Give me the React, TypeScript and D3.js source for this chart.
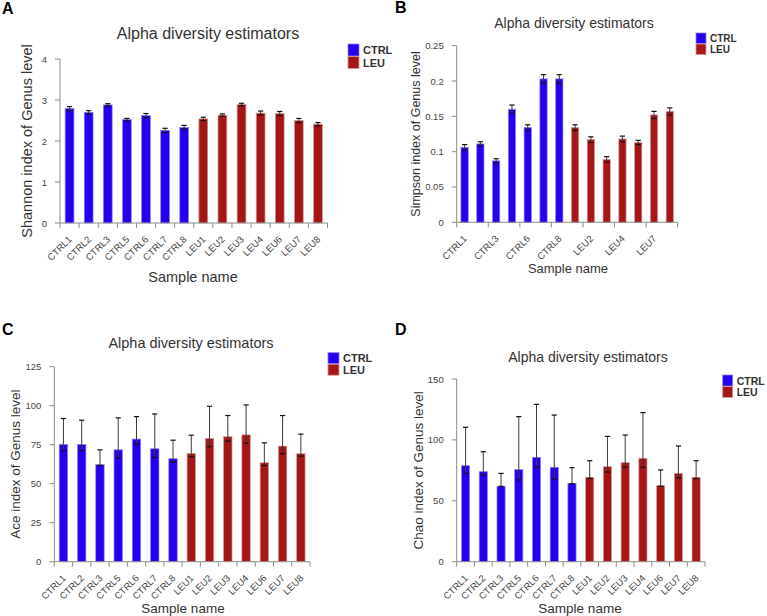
import React, { useEffect, useRef } from 'react';
import * as d3 from 'd3';

// sample order along the x axis
const samples = ['CTRL1', 'CTRL2', 'CTRL3', 'CTRL5', 'CTRL6', 'CTRL7', 'CTRL8', 'LEU1', 'LEU2', 'LEU3', 'LEU4', 'LEU6', 'LEU7', 'LEU8'];
const groupNames = ['CTRL', 'LEU'];
const groupColors = ['#2300ee', '#a51616'];
const groupEdges = ['#8c80f4', '#d29a9a'];

// A - Shannon
const shannonValues = [2.79, 2.7, 2.88, 2.52, 2.62, 2.26, 2.33, 2.54, 2.63, 2.89, 2.68, 2.67, 2.5, 2.41];
const shannonErrors = [0.05, 0.04, 0.03, 0.03, 0.05, 0.05, 0.05, 0.04, 0.03, 0.03, 0.05, 0.05, 0.05, 0.04];
const shannonTicks = [0, 1, 2, 3, 4];

// B - Simpson
const simpsonValues = [0.106, 0.111, 0.087, 0.16, 0.134, 0.203, 0.203, 0.134, 0.117, 0.089, 0.118, 0.113, 0.152, 0.157];
const simpsonErrors = [0.004, 0.003, 0.003, 0.006, 0.004, 0.006, 0.006, 0.004, 0.004, 0.004, 0.004, 0.003, 0.005, 0.005];
const simpsonTicks = [0, 0.05, 0.1, 0.15, 0.2, 0.25];

// C - Ace
const aceValues = [75.2, 75.2, 62.2, 71.7, 78.6, 72.4, 66, 69.4, 79, 80.1, 81.3, 63.4, 74.1, 69.2];
const aceUpper = [91.8, 90.7, 71.7, 92.2, 93, 94.7, 77.9, 81.1, 99.6, 93.7, 100.5, 76.2, 93.7, 81.8];
const aceLower = [71.3, 71.3, 61.7, 66.6, 75.2, 66.9, 63.9, 67.3, 73.7, 77.3, 76, 61.7, 69.2, 67.7];
const aceTicks = [0, 25, 50, 75, 100, 125];

// D - Chao
const chaoValues = [78.8, 73.9, 61.9, 75.6, 85.7, 77.5, 64.3, 69.3, 78, 81.3, 84.9, 62.4, 72.5, 69.3];
const chaoUpper = [110.3, 90.3, 72.5, 119.1, 129.2, 120.4, 77.2, 82.9, 102.9, 104, 122.4, 75.3, 95, 82.9];
const chaoLower = [72.5, 71.2, 61.9, 67.1, 77.5, 67.9, 64, 68.4, 73.6, 77.7, 77.5, 61.9, 69, 68.2];
const chaoTicks = [0, 50, 100, 150];

const FONT = 'Arial, "Liberation Sans", sans-serif';

interface PanelSpec {
  letter: string;
  letterX: number;
  letterY: number;
  values: number[];
  upper: number[];
  lower: number[];
  ticks: number[];
  yLabel: string;
  left: number;
  right: number;
  top: number;
  bottom: number;
  titleX: number;
  titleY: number;
  titleSize: number;
  yLabelX: number;
  yLabelSize: number;
  xLabelX: number;
  xLabelY: number;
  xLabelSize: number;
  labelEvery: number;
  legendX: number;
  legendY: number;
  legendW: number;
  legendH: number;
  legendSize: number;
}

const panels: PanelSpec[] = [
  {
    letter: 'A', letterX: 2, letterY: 14,
    values: shannonValues,
    upper: shannonValues.map((v, i) => v + shannonErrors[i]),
    lower: shannonValues.map((v, i) => v - shannonErrors[i]),
    ticks: shannonTicks, yLabel: 'Shannon index of Genus level',
    left: 60, right: 327.5, top: 59, bottom: 223,
    titleX: 208, titleY: 33, titleSize: 16,
    yLabelX: 27, yLabelSize: 14.5,
    xLabelX: 193, xLabelY: 277, xLabelSize: 14.5,
    labelEvery: 1,
    legendX: 348, legendY: 44, legendW: 11, legendH: 12, legendSize: 11
  },
  {
    letter: 'B', letterX: 395, letterY: 13,
    values: simpsonValues,
    upper: simpsonValues.map((v, i) => v + simpsonErrors[i]),
    lower: simpsonValues.map((v, i) => v - simpsonErrors[i]),
    ticks: simpsonTicks, yLabel: 'Simpson index of Genus level',
    left: 456.7, right: 677.7, top: 45.7, bottom: 222.3,
    titleX: 574, titleY: 23, titleSize: 14,
    yLabelX: 416, yLabelSize: 12.5,
    xLabelX: 568, xLabelY: 268, xLabelSize: 13,
    labelEvery: 2,
    legendX: 696, legendY: 33, legendW: 10, legendH: 10.5, legendSize: 10
  },
  {
    letter: 'C', letterX: 2, letterY: 335,
    values: aceValues, upper: aceUpper, lower: aceLower,
    ticks: aceTicks, yLabel: 'Ace index of Genus level',
    left: 54.3, right: 310, top: 366.7, bottom: 561.7,
    titleX: 191, titleY: 343, titleSize: 14.5,
    yLabelX: 15, yLabelSize: 13.5,
    xLabelX: 183, xLabelY: 608, xLabelSize: 13.5,
    labelEvery: 1,
    legendX: 328, legendY: 352.7, legendW: 11, legendH: 11, legendSize: 11
  },
  {
    letter: 'D', letterX: 395, letterY: 335,
    values: chaoValues, upper: chaoUpper, lower: chaoLower,
    ticks: chaoTicks, yLabel: 'Chao index of Genus level',
    left: 456.7, right: 705, top: 379, bottom: 561.7,
    titleX: 588, titleY: 357, titleSize: 14,
    yLabelX: 418, yLabelSize: 13.5,
    xLabelX: 580, xLabelY: 608, xLabelSize: 13.5,
    labelEvery: 1,
    legendX: 722.7, legendY: 375, legendW: 10, legendH: 11, legendSize: 10.5
  }
];

const groupIndex = (s: string) => (s.startsWith('CTRL') ? 0 : 1);

function drawPanel(svg: d3.Selection<SVGSVGElement, unknown, null, undefined>, p: PanelSpec) {
  const g = svg.append('g');

  const x = d3.scaleBand<string>().domain(samples).range([p.left, p.right]).padding(0);
  const y = d3.scaleLinear()
    .domain([p.ticks[0], p.ticks[p.ticks.length - 1]])
    .range([p.bottom, p.top]);
  const step = x.step();
  const barW = step * 0.46;

  // panel letter
  g.append('text')
    .attr('x', p.letterX).attr('y', p.letterY)
    .attr('font-family', FONT).attr('font-weight', 'bold').attr('font-size', 16)
    .attr('fill', '#000')
    .text(p.letter);

  // title
  g.append('text')
    .attr('x', p.titleX).attr('y', p.titleY)
    .attr('text-anchor', 'middle').attr('dominant-baseline', 'central')
    .attr('font-family', FONT).attr('font-size', p.titleSize)
    .attr('fill', '#333')
    .text('Alpha diversity estimators');

  // bars
  g.selectAll('.bar')
    .data(p.values)
    .enter()
    .append('rect')
    .attr('x', (d, i) => (x(samples[i]) || 0) + (step - barW) / 2)
    .attr('y', d => y(d))
    .attr('width', barW)
    .attr('height', d => y(0) - y(d))
    .attr('fill', (d, i) => groupColors[groupIndex(samples[i])])
    .attr('stroke', (d, i) => groupEdges[groupIndex(samples[i])])
    .attr('stroke-width', 0.7);

  // error bars
  const cap = 2.6;
  samples.forEach((s, i) => {
    const cx = (x(s) || 0) + step / 2;
    const yu = y(p.upper[i]);
    const yl = y(p.lower[i]);
    g.append('line')
      .attr('x1', cx).attr('x2', cx).attr('y1', yu).attr('y2', yl)
      .attr('stroke', '#3a3a3a').attr('stroke-width', 1);
    [yu, yl].forEach(yy => {
      g.append('line')
        .attr('x1', cx - cap).attr('x2', cx + cap).attr('y1', yy).attr('y2', yy)
        .attr('stroke', '#111').attr('stroke-width', 1.2);
    });
  });

  // y axis
  const axisColor = '#8c8c8c';
  g.append('line')
    .attr('x1', p.left).attr('x2', p.left).attr('y1', p.top).attr('y2', p.bottom)
    .attr('stroke', axisColor).attr('stroke-width', 1);
  p.ticks.forEach(t => {
    g.append('line')
      .attr('x1', p.left - 5).attr('x2', p.left).attr('y1', y(t)).attr('y2', y(t))
      .attr('stroke', axisColor).attr('stroke-width', 1);
    g.append('text')
      .attr('x', p.left - 13).attr('y', y(t))
      .attr('text-anchor', 'end').attr('dominant-baseline', 'central')
      .attr('font-family', FONT).attr('font-size', 9.5).attr('fill', '#444')
      .text(d3.format('~g')(t));
  });

  // x axis
  g.append('line')
    .attr('x1', p.left).attr('x2', p.right).attr('y1', p.bottom).attr('y2', p.bottom)
    .attr('stroke', axisColor).attr('stroke-width', 1);
  const edges = samples.map(s => x(s) || 0).concat([p.right]);
  edges.forEach((ex, i) => {
    if (p.labelEvery > 1 && i % p.labelEvery !== 0 && i !== edges.length - 1) return;
    g.append('line')
      .attr('x1', ex).attr('x2', ex).attr('y1', p.bottom).attr('y2', p.bottom + 5)
      .attr('stroke', axisColor).attr('stroke-width', 1);
  });
  samples.forEach((s, i) => {
    if (i % p.labelEvery !== 0) return;
    const cx = (x(s) || 0) + step / 2 + 3;
    const ty = p.bottom + 17;
    g.append('text')
      .attr('transform', `translate(${cx},${ty}) rotate(-45)`)
      .attr('text-anchor', 'end')
      .attr('font-family', FONT).attr('font-size', 9.5).attr('fill', '#444')
      .text(s);
  });

  // axis titles
  g.append('text')
    .attr('transform', `translate(${p.yLabelX},${(p.top + p.bottom) / 2}) rotate(-90)`)
    .attr('text-anchor', 'middle').attr('dominant-baseline', 'central')
    .attr('font-family', FONT).attr('font-size', p.yLabelSize).attr('fill', '#333')
    .text(p.yLabel);
  g.append('text')
    .attr('x', p.xLabelX).attr('y', p.xLabelY)
    .attr('text-anchor', 'middle').attr('dominant-baseline', 'central')
    .attr('font-family', FONT).attr('font-size', p.xLabelSize).attr('fill', '#333')
    .text('Sample name');

  // legend
  groupNames.forEach((name, i) => {
    const ly = p.legendY + i * (p.legendH + 0.5);
    g.append('rect')
      .attr('x', p.legendX).attr('y', ly)
      .attr('width', p.legendW).attr('height', p.legendH)
      .attr('fill', groupColors[i]).attr('stroke', groupEdges[i]).attr('stroke-width', 0.8);
    g.append('text')
      .attr('x', p.legendX + p.legendW + 4).attr('y', ly + p.legendH / 2)
      .attr('dominant-baseline', 'central')
      .attr('font-family', FONT).attr('font-weight', 'bold')
      .attr('font-size', p.legendSize).attr('fill', '#333')
      .text(name);
  });
}

const App: React.FC = () => {
  const svgRef = useRef<SVGSVGElement>(null);

  useEffect(() => {
    if (!svgRef.current) return;
    const svg = d3.select(svgRef.current);
    svg.selectAll('*').remove();
    panels.forEach(p => drawPanel(svg, p));
  }, []);

  return (
    <div style={{ position: 'absolute', left: 0, top: 0 }}>
      <svg ref={svgRef} width={767} height={616} style={{ display: 'block', background: '#fff' }} />
    </div>
  );
};

export default App;
